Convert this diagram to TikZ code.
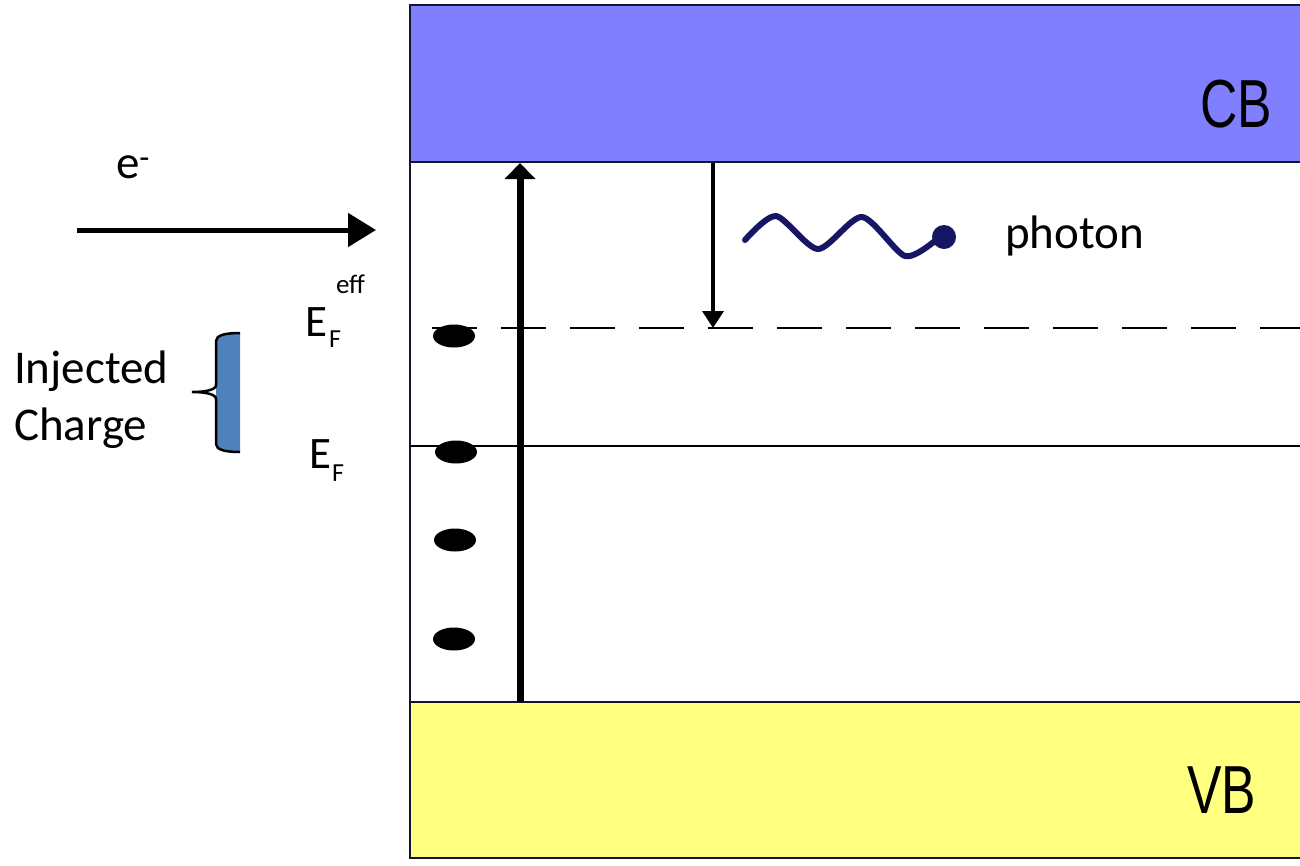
\documentclass[tikz,border=0pt]{standalone}
\usepackage{fontspec}
\setmainfont{Carlito}
\newfontfamily\bandfont{Liberation Sans}
\usetikzlibrary{arrows.meta,shapes.geometric}
\definecolor{cbblue}{RGB}{128,128,255}
\definecolor{vbyellow}{RGB}{255,255,128}
\definecolor{bracefill}{RGB}{79,129,189}
\definecolor{navy}{RGB}{22,22,100}
\definecolor{framecol}{RGB}{20,20,50}
\begin{document}
\begin{tikzpicture}[x=1pt,y=-1pt,
  lbl/.style={anchor=base west,inner sep=0pt,outer sep=0pt,font=\fontsize{47}{55}\selectfont},
  sublbl/.style={anchor=base west,inner sep=0pt,outer sep=0pt,font=\fontsize{26}{30}\selectfont},
  suplbl/.style={anchor=base west,inner sep=0pt,outer sep=0pt,font=\fontsize{27}{30}\selectfont},
  bandlbl/.style={anchor=base west,inner sep=0pt,outer sep=0pt,font=\bandfont\fontsize{68}{72}\selectfont,xscale=0.76},
  bandline/.style={framecol,line width=2.2pt},
  dotnode/.style={ellipse,fill=black,minimum width=42pt,minimum height=23pt,inner sep=0pt},
  fermi/.style={line width=2pt}]
\useasboundingbox (0,0) rectangle (1300,865);
% bands
\fill[cbblue] (410,5) rectangle (1300,162);
\fill[vbyellow] (410,702) rectangle (1300,858);
\draw[bandline] (1300,5) -- (410,5) -- (410,858) -- (1300,858);
\draw[bandline] (410,162) -- (1300,162);
\draw[bandline] (410,702) -- (1300,702);
\node[bandlbl] (cb) at (1200,127) {CB};
\node[bandlbl] (vb) at (1187,813) {VB};
% Fermi levels
\coordinate (feffL) at (410,328);
\coordinate (feffR) at (1300,328);
\coordinate (fL) at (410,446);
\coordinate (fR) at (1300,446);
\draw[fermi,dash pattern=on 45pt off 24pt,dash phase=47pt] (feffL) -- (feffR);
\draw[fermi] (fL) -- (fR);
% electrons
\node[dotnode] (d1) at (454,336) {};
\node[dotnode] (d2) at (456,452) {};
\node[dotnode] (d3) at (455,540) {};
\node[dotnode] (d4) at (454,639) {};
% excitation arrow
\coordinate (upS) at (520,702);
\coordinate (upE) at (520,163);
\draw[line width=7pt,-{Triangle[length=16pt,width=30pt]}] (upS) -- (upE);
% relaxation arrow
\coordinate (dnS) at (713,163);
\coordinate (dnE) at (713,328);
\draw[line width=3.5pt,-{Triangle[length=17pt,width=21pt]}] (dnS) -- (dnE);
% photon
\draw[navy,line width=6pt,line cap=round,line join=round]
  plot[smooth,tension=0.45] coordinates {(745,240) (776,216) (818,249) (862,217) (905,256) (936,240)};
\fill[navy] (944,237) circle (12pt);
\node[lbl] (photon) at (1005,248) {photon};
% injected electron
\coordinate (eS) at (77,230);
\coordinate (eE) at (376,230);
\draw[line width=5pt,-{Triangle[length=28pt,width=33pt]}] (eS) -- (eE);
\node[lbl] (elec) at (116,178) {e\textsuperscript{-}};
% Fermi labels
\node[lbl,font=\fontsize{45}{50}\selectfont] (Eeff) at (305,336) {E};
\node[sublbl] (Feff) at (329,347) {F};
\node[suplbl] (eff) at (336,293) {eff};
\node[lbl,font=\fontsize{45}{50}\selectfont] (E0) at (309,468) {E};
\node[sublbl] (F0) at (332,481) {F};
% injected charge
\fill[bracefill] (240,333) .. controls (226,333) and (216,335) .. (216,341) -- (216,444) .. controls (216,450) and (226,452) .. (240,452) -- cycle;
\draw[line width=2.5pt] (240,333) .. controls (226,333) and (216,335) .. (216,341) -- (216,385) .. controls (216,390) and (205,392) .. (192,392) .. controls (205,392) and (216,394) .. (216,399) -- (216,444) .. controls (216,450) and (226,452) .. (240,452);
\node[lbl] (inj) at (14,383) {Injected};
\node[lbl] (chg) at (14,440) {Charge};
\end{tikzpicture}
\end{document}
